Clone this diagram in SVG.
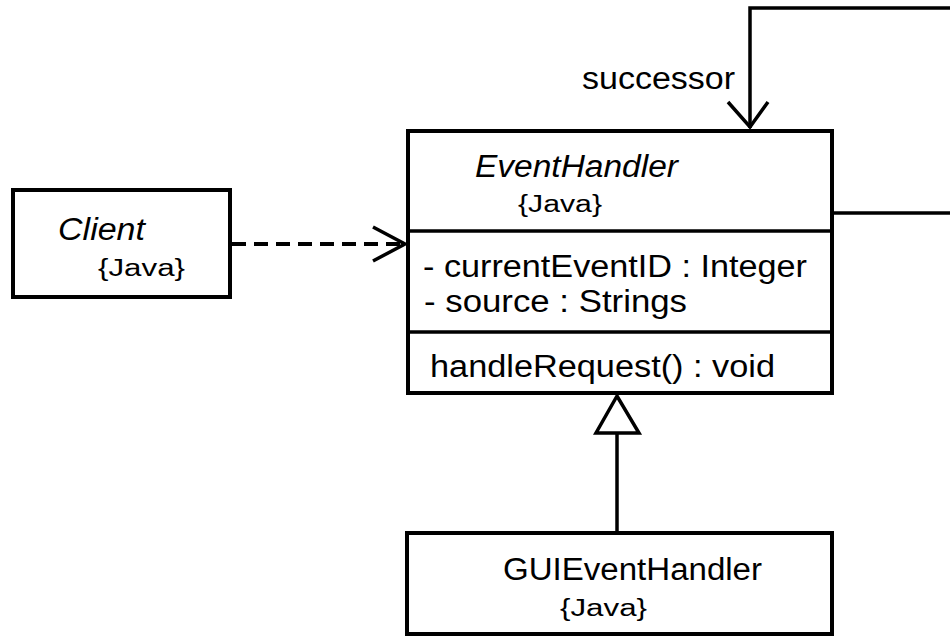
<svg xmlns="http://www.w3.org/2000/svg" width="950" height="636" viewBox="0 0 950 636">
<style>
.box{fill:#fff;stroke:#000;stroke-width:4}
.div{stroke:#000;stroke-width:3.5}
.ln{fill:none;stroke:#000;stroke-width:3.5}
.t{font-family:"Liberation Sans",Arial,sans-serif;font-size:31px;fill:#000}
.it{font-style:italic}
.j{font-family:"Liberation Sans",Arial,sans-serif;font-size:23px;fill:#000}
</style>
<rect width="950" height="636" fill="#fff"/>
<g id="connectors">
  <path class="ln" d="M832,213 H952"/>
  <path class="ln" d="M952,8 H750 V128"/>
  <polyline class="ln" points="728,102 750,127 768,102"/>
  <text class="t" x="582" y="89" textLength="153" lengthAdjust="spacingAndGlyphs">successor</text>
  <line x1="232" y1="244" x2="403" y2="244" stroke="#000" stroke-width="4" stroke-dasharray="14 8"/>
  <polyline class="ln" points="373,227 405,244 373,261"/>
  <line class="ln" x1="617" y1="433" x2="617" y2="533"/>
  <polygon points="617,396 596,433 639,433" fill="#fff" stroke="#000" stroke-width="3.5"/>
</g>
<g id="Client">
  <rect class="box" x="13" y="190" width="217" height="107"/>
  <text class="t it" x="58" y="240" textLength="87" lengthAdjust="spacingAndGlyphs">Client</text>
  <text class="j" x="98" y="276" textLength="87" lengthAdjust="spacingAndGlyphs">{Java}</text>
</g>
<g id="EventHandler">
  <rect class="box" x="408" y="131" width="424" height="262"/>
  <line class="div" x1="408" y1="231" x2="832" y2="231"/>
  <line class="div" x1="408" y1="332" x2="832" y2="332"/>
  <text class="t it" x="475" y="177" textLength="203" lengthAdjust="spacingAndGlyphs">EventHandler</text>
  <text class="j" x="518" y="212" textLength="84" lengthAdjust="spacingAndGlyphs">{Java}</text>
  <text class="t" x="423" y="277" textLength="384" lengthAdjust="spacingAndGlyphs">- currentEventID : Integer</text>
  <text class="t" x="424" y="312" textLength="263" lengthAdjust="spacingAndGlyphs">- source : Strings</text>
  <text class="t" x="430" y="377" textLength="345" lengthAdjust="spacingAndGlyphs">handleRequest() : void</text>
</g>
<g id="GUIEventHandler">
  <rect class="box" x="407" y="533" width="425" height="101"/>
  <text class="t" x="503" y="580" textLength="259" lengthAdjust="spacingAndGlyphs">GUIEventHandler</text>
  <text class="j" x="560" y="616" textLength="87" lengthAdjust="spacingAndGlyphs">{Java}</text>
</g>
</svg>
